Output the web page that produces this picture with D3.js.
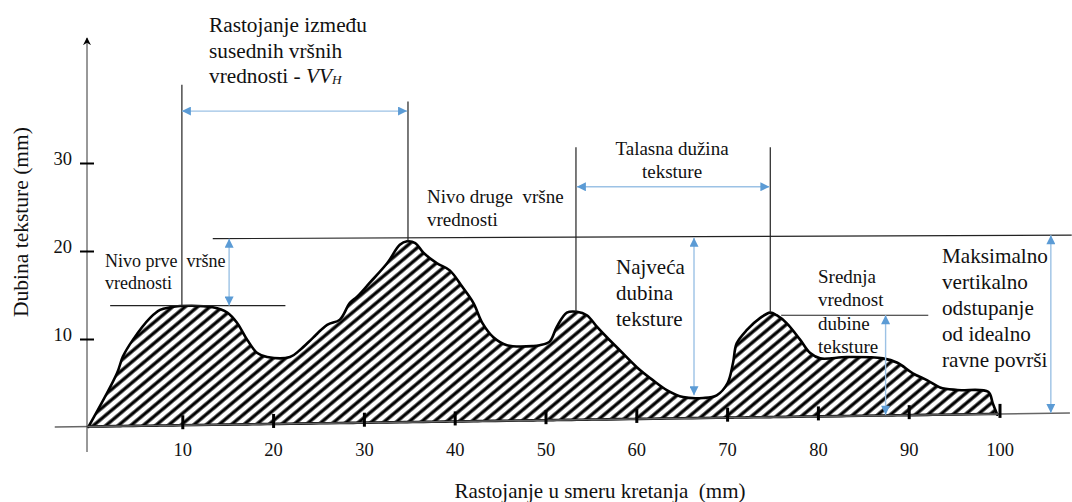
<!DOCTYPE html>
<html><head><meta charset="utf-8">
<script src="https://cdn.jsdelivr.net/npm/d3@7"></script>
<style>
html,body{margin:0;padding:0;background:#fff;}
svg text{font-family:"Liberation Serif","Times New Roman","DejaVu Serif",serif;white-space:pre;}
</style></head>
<body>
<svg id="chart" width="1072" height="502"></svg>
<script>
// ---- data ----
const xTicks = [10, 20, 30, 40, 50, 60, 70, 80, 90, 100];
const yTicks = [10, 20, 30];
const profileX = [-0.4, 2.75, 3.4, 4.5, 6.4, 7.5, 8.6, 9.7, 13.3, 14.9, 16.0, 17.1, 18.2, 19.3, 21.8, 22.9, 24.3, 25.9, 27.3, 28.4, 29.2, 30.6, 32.5, 33.9, 34.7, 35.6, 36.5, 38.0, 39.4, 40.8, 42.0, 43.0, 44.2, 45.7, 48.6, 49.3, 50.4, 51.2, 52.3, 53.4, 54.5, 55.6, 56.7, 58.1, 60.0, 61.8, 63.3, 65.1, 67.3, 68.8, 70.0, 70.6, 71.0, 72.1, 73.6, 74.7, 75.4, 76.5, 78.0, 79.1, 80.2, 83.1, 87.1, 88.7, 90.4, 92.0, 93.4, 95.3, 98.7, 99.2, 99.7];
const profileY = [0, 6.1, 8.0, 9.9, 12.4, 13.3, 13.6, 13.75, 13.6, 13.0, 11.8, 9.9, 8.4, 7.95, 7.95, 8.75, 10.1, 11.6, 12.2, 14.1, 14.8, 16.4, 18.6, 20.7, 21.1, 20.9, 19.8, 18.6, 17.8, 15.9, 14.1, 11.8, 10.2, 9.3, 9.2, 9.3, 9.7, 11.4, 13.0, 13.1, 12.7, 11.4, 10.2, 8.75, 6.8, 5.3, 4.2, 3.4, 3.3, 3.6, 5.0, 7.3, 9.5, 11.0, 12.4, 13.0, 12.7, 11.8, 9.9, 8.4, 7.8, 7.95, 7.8, 7.3, 6.1, 5.3, 4.5, 4.2, 4.0, 2.7, 1.4];
const baselineX = [-4.1, 107.7];
const baselineY = [0, 1.6];
// reference lines (black): [x1, y1, x2, y2] in mm
const refLines = [
  [9.9, 38.9, 9.9, 13.75],
  [34.8, 37.0, 34.8, 21.1],
  [53.3, 31.8, 53.3, 13.1],
  [74.7, 31.8, 74.7, 13.0],
  [2.0, 13.8, 21.3, 13.8],
  [13.3, 21.4, 107.9, 21.8],
  [75.9, 12.7, 92.1, 12.7]
];
// blue double arrows: [x1, y1, x2, y2] in mm
const arrows = [
  [9.9, 35.9, 34.7, 35.9],
  [53.4, 27.3, 74.6, 27.3],
  [15.1, 21.4, 15.1, 13.8],
  [66.3, 21.5, 66.3, 3.6],
  [87.4, 12.7, 87.4, 1.4],
  [105.6, 21.8, 105.6, 1.6]
];
const labels = [
  {lines: ["Rastojanje između", "susednih vršnih", "vrednosti - "], x: 209, y: 32, dy: 25.5, size: 21.3, anchor: "start", vv: true},
  {lines: ["Nivo druge  vršne", "vrednosti"], x: 427, y: 203, dy: 23, size: 19, anchor: "start"},
  {lines: ["Talasna dužina", "teksture"], x: 672, y: 155, dy: 23, size: 19, anchor: "middle"},
  {lines: ["Nivo prve  vršne", "vrednosti"], x: 105, y: 267, dy: 22, size: 18, anchor: "start"},
  {lines: ["Najveća", "dubina", "teksture"], x: 616, y: 274, dy: 26, size: 21, anchor: "start"},
  {lines: ["Srednja", "vrednost", "dubine", "teksture"], x: 818, y: 283, dy: 23.3, size: 19, anchor: "start"},
  {lines: ["Maksimalno", "vertikalno", "odstupanje", "od idealno", "ravne površi"], x: 942, y: 263, dy: 26, size: 21.2, anchor: "start"}
];

const FONT = "'Liberation Serif', 'Times New Roman', 'DejaVu Serif', serif";

// ---- scales ----
const x = d3.scaleLinear().domain([0, 100]).range([92, 1000]);
const y = d3.scaleLinear().domain([0, 30]).range([427, 163]);
const base = d3.scaleLinear().domain(baselineX).range(baselineY);

const svg = d3.select("#chart");
const defs = svg.append("defs");

// hatch pattern
const pat = defs.append("pattern").attr("id", "hatch")
  .attr("patternUnits", "userSpaceOnUse").attr("width", 8).attr("height", 8)
  .attr("patternTransform", "rotate(50)");
pat.append("rect").attr("width", 8).attr("height", 8).attr("fill", "#fff");
pat.append("line").attr("x1", 2).attr("y1", 0).attr("x2", 2).attr("y2", 8)
  .attr("stroke", "#000").attr("stroke-width", 3.3);

defs.append("filter").attr("id", "blur").append("feGaussianBlur").attr("stdDeviation", 0.6);

["start", "end"].forEach(k => {
  const m = defs.append("marker").attr("id", "ah-" + k)
    .attr("viewBox", "0 0 10 10").attr("refX", 10).attr("refY", 5)
    .attr("markerWidth", 10).attr("markerHeight", 9).attr("markerUnits", "userSpaceOnUse")
    .attr("orient", k === "end" ? "auto" : "auto-start-reverse");
  m.append("path").attr("d", "M0,0L10,5L0,10Z").attr("fill", "#5b9bd5");
});
const ya = defs.append("marker").attr("id", "yarrow")
  .attr("viewBox", "0 0 10 10").attr("refX", 9).attr("refY", 5)
  .attr("markerWidth", 8).attr("markerHeight", 8).attr("markerUnits", "userSpaceOnUse")
  .attr("orient", "auto");
ya.append("path").attr("d", "M0,0L10,5L0,10L3,5Z").attr("fill", "#000");

// profile area
const pts = profileX.map((v, i) => [v, profileY[i]]);
const area = d3.area()
  .x(d => x(d[0])).y0(d => y(base(Math.max(d[0], baselineX[0])))).y1(d => y(d[1]))
  .curve(d3.curveCatmullRom.alpha(0.5));
svg.append("path").datum(pts).attr("d", area)
  .attr("fill", "url(#hatch)").attr("stroke", "#000").attr("stroke-width", 2.6)
  .attr("stroke-linejoin", "round").attr("filter", "url(#blur)");

// baseline (x axis)
svg.append("line")
  .attr("x1", x(baselineX[0])).attr("y1", y(baselineY[0]))
  .attr("x2", x(baselineX[1])).attr("y2", y(baselineY[1]))
  .attr("stroke", "#666").attr("stroke-width", 1.5);

// y axis
const yAxisX = x(-0.55);
svg.append("line").attr("x1", yAxisX).attr("y1", 452).attr("x2", yAxisX).attr("y2", 38)
  .attr("stroke", "#333").attr("stroke-width", 1).attr("marker-end", "url(#yarrow)");

const yAxis = d3.axisLeft(y).tickValues(yTicks).tickSize(0).tickPadding(0).tickFormat(d3.format("d"));
const gy = svg.append("g").attr("transform", `translate(${yAxisX},0)`).call(yAxis)
  .attr("font-family", FONT).attr("font-size", 18);
gy.select(".domain").remove();
gy.selectAll(".tick line").remove();
gy.selectAll(".tick").append("line").attr("x1", -7).attr("x2", 7).attr("stroke", "#000").attr("stroke-width", 2);
gy.selectAll(".tick text").attr("x", -15).attr("dy", "0.1em")
  .attr("font-family", FONT).attr("font-size", 18.5).attr("fill", "#111");

// x ticks (follow sloped baseline)
const gx = svg.append("g");
gx.selectAll("line").data(xTicks).join("line")
  .attr("x1", d => x(d)).attr("x2", d => x(d))
  .attr("y1", d => y(base(d)) - 10).attr("y2", d => y(base(d)) + 4)
  .attr("stroke", "#000").attr("stroke-width", 3);
gx.selectAll("text").data(xTicks).join("text")
  .attr("x", d => x(d)).attr("y", 456).attr("text-anchor", "middle")
  .attr("font-family", FONT).attr("font-size", 18.5).attr("fill", "#111").text(d => d);

// reference lines
svg.append("g").selectAll("line").data(refLines).join("line")
  .attr("x1", d => x(d[0])).attr("y1", d => y(d[1]))
  .attr("x2", d => x(d[2])).attr("y2", d => y(d[3]))
  .attr("stroke", "#222").attr("stroke-width", 1.2);

// blue arrows
svg.append("g").selectAll("line").data(arrows).join("line")
  .attr("x1", d => x(d[0])).attr("y1", d => y(d[1]))
  .attr("x2", d => x(d[2])).attr("y2", d => y(d[3]))
  .attr("stroke", "#9cc2e5").attr("stroke-width", 1.4)
  .attr("marker-start", "url(#ah-start)").attr("marker-end", "url(#ah-end)");

// labels
labels.forEach(L => {
  const t = svg.append("text").attr("x", L.x).attr("y", L.y)
    .attr("font-family", FONT).attr("xml:space", "preserve")
    .attr("font-size", L.size).attr("text-anchor", L.anchor).attr("fill", "#111");
  L.lines.forEach((s, i) => {
    t.append("tspan").attr("x", L.x).attr("y", L.y + i * L.dy).text(s);
  });
  if (L.vv) {
    t.append("tspan").attr("font-style", "italic").text("VV");
    t.append("tspan").attr("font-style", "italic").attr("font-size", L.size * 0.62).attr("dy", 1).text("H");
  }
});

// axis titles
svg.append("text").attr("x", 600).attr("y", 498).attr("text-anchor", "middle")
  .attr("font-family", FONT).attr("font-size", 21).attr("fill", "#111").text("Rastojanje u smeru kretanja  (mm)");
svg.append("text").attr("transform", "translate(28,222) rotate(-90)").attr("text-anchor", "middle")
  .attr("font-family", FONT).attr("font-size", 21.5).attr("fill", "#111").text("Dubina teksture (mm)");
</script>
</body></html>
